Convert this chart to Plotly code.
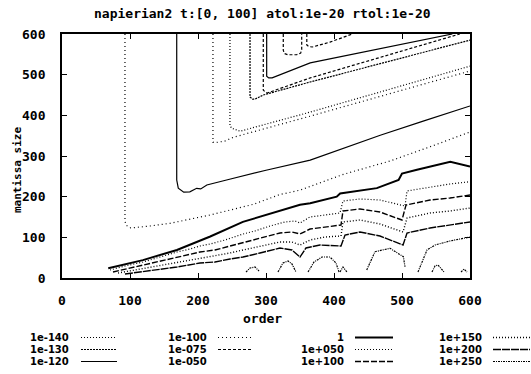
import plotly.graph_objects as go

# ---------------- data (order, mantissa size) ----------------
level_names = ["1e-140", "1e-130", "1e-120", "1e-100", "1e-075", "1e-050",
               "1", "1e+050", "1e+100", "1e+150", "1e+200", "1e+250"]

# upper region (vertical then slanted contours)
a_order = [92.6, 92.6, 94, 101, 130, 159, 218, 281, 320, 350, 414, 440, 483, 540, 593, 600]
a_mant = [600, 140, 130, 123, 128, 134.5, 155, 181, 205, 216, 255, 268, 288, 322, 355, 359]

b_order = [168.7, 168.7, 171, 179, 188, 198, 204, 213, 242, 300, 365, 468, 530, 600]
b_mant = [600, 241, 221, 211, 212, 220.5, 219, 228.7, 241, 265, 290, 351, 385, 423]

v3_order = [222, 222, 226, 240, 252, 365, 600]
v3_mant = [600, 334, 333, 337, 346, 398, 509]

v4_order = [247, 247, 250, 256, 262, 365, 600]
v4_mant = [600, 374, 368, 364, 361, 408, 521]

v5_order = [276.5, 276.5, 280, 284, 296, 365, 600]
v5_mant = [600, 445, 440, 440, 450, 482, 585]

v5b_order = [296, 296, 299, 302, 365, 585]
v5b_mant = [600, 462, 457, 455, 492, 600]

v6_order = [301, 301, 304, 309, 365, 574]
v6_mant = [600, 496, 492, 492, 529, 600]

u_order = [325.4, 325.4, 327, 332, 345, 351, 352.5, 352.5]
u_mant = [600, 560, 552, 549, 549, 553, 562, 600]

u2_order = [360, 360, 363, 368, 394, 427]
u2_mant = [600, 573, 569, 568, 580, 600]

# lower region
one_order = [68, 119, 169, 218, 266, 316, 350, 365, 404, 409, 463, 495, 500, 522, 571, 600]
one_mant = [24, 44, 69, 102, 138, 163, 180, 184, 200, 208, 221, 241, 257, 266, 286, 274]

l50_order = [70.6, 92.6, 119.1, 144.1, 169.1, 188.2, 202.9, 217.6, 239.7, 266.2, 283.8, 305.9,
             327.9, 342.6, 350, 364.7, 386.8, 408.8, 413.2, 438.2, 467.6, 497, 504.4, 507.4,
             541.2, 570.6, 600]
l50_mant = [19.7, 29.5, 39.3, 51.6, 63.9, 71.3, 78.7, 83.6, 93.4, 108.2, 115.6, 127.9,
            137.7, 140.2, 135.3, 150, 154.9, 159.8, 189.4, 194.3, 191.8, 179.5, 177, 214,
            223.8, 231.2, 236.8]

l100_order = [75, 100, 119.1, 144.1, 169.1, 202.9, 225, 247.1, 266.2, 291.2, 320.6, 338.2,
              350, 364.7, 386.8, 410.3, 413.2, 438.2, 467.6, 500, 505.9, 541.2, 570.6, 600]
l100_mant = [14.8, 24.6, 32, 41.8, 51.6, 63.9, 68.9, 78.7, 88.5, 98.4, 110.7, 113.1,
             108.2, 120.5, 125.4, 130.3, 164.8, 169.7, 162.3, 142.6, 179.5, 191.8, 196.7, 204.1]

l150_order = [82.4, 107.4, 129.4, 169.1, 202.9, 225, 247.1, 266.2, 291.2, 320.6, 338.2, 350,
              364.7, 386.8, 410.3, 413.2, 438.2, 467.6, 501.5, 507.4, 541.2, 570.6, 600]
l150_mant = [12.3, 19.7, 27, 39.3, 49.2, 54.1, 61.5, 68.9, 78.7, 88.5, 88.5, 81.1,
             93.4, 100.8, 103.3, 137.7, 142.6, 132.8, 113.1, 147.5, 159.8, 164.8, 172.1]

l200_order = [92.6, 129.4, 169.1, 202.9, 225, 247.1, 266.2, 291.2, 320.6, 338.2, 350, 358.8,
              379.4, 410.3, 416.2, 438.2, 467.6, 501.5, 507.4, 541.2, 570.6, 600]
l200_mant = [9.8, 17.2, 27, 36.9, 39.3, 46.7, 51.6, 61.5, 73.8, 68.9, 51.6, 73.8,
             81.1, 78.7, 105.7, 113.1, 103.3, 81.1, 110.7, 123, 130.3, 137.7]

l250_order = [523.5, 529.4, 536.8, 548.5, 570.6, 600]
l250_mant = [14.8, 39.3, 68.9, 81.1, 91, 100.8]

arch1_order = [270.6, 276.5, 283.8, 289.7]
arch1_mant = [14.8, 24.6, 27, 17.2]
arch2_order = [317.6, 325, 332.4, 338.2, 344.1]
arch2_mant = [14.8, 36.9, 41.8, 34.4, 14.8]
arch3_order = [361.8, 370.6, 382.4, 394.1, 402.9, 407.4]
arch3_mant = [14.8, 39.3, 51.6, 51.6, 36.9, 14.8]
arch4_order = [448.1, 460.3, 482.4, 502, 504.4]
arch4_mant = [19.7, 64.7, 73, 52.3, 27.7]
blob1_order = [408.8, 413.2, 419.1]
blob1_mant = [14.8, 27, 14.8]
blob2_order = [544.1, 548.5, 552.9, 557.4, 561.8]
blob2_mant = [14.8, 29.5, 32, 24.6, 14.8]
blob3_order = [586.8, 591.2, 595.6]
blob3_mant = [14.8, 22.1, 14.8]

contours = [
    ("1e-100", a_order, a_mant), ("1e-120", b_order, b_mant),
    ("1e-100", v3_order, v3_mant), ("1e-140", v4_order, v4_mant),
    ("1e-130", v5_order, v5_mant), ("1e-075", v5b_order, v5b_mant),
    ("1e-120", v6_order, v6_mant), ("1e-075", u_order, u_mant),
    ("1e-075", u2_order, u2_mant),
    ("1", one_order, one_mant), ("1e+050", l50_order, l50_mant),
    ("1e+100", l100_order, l100_mant), ("1e+150", l150_order, l150_mant),
    ("1e+200", l200_order, l200_mant), ("1e+250", l250_order, l250_mant),
    ("1e+250", arch1_order, arch1_mant), ("1e+250", arch2_order, arch2_mant),
    ("1e+250", arch3_order, arch3_mant), ("1e+250", arch4_order, arch4_mant),
    ("1e+250", blob1_order, blob1_mant), ("1e+250", blob2_order, blob2_mant),
    ("1e+250", blob3_order, blob3_mant),
]

# ---------------- styles ----------------
STYLE = {
    "1e-140": dict(dash="1px,2px", width=1.2),
    "1e-130": dict(dash="2px,1px", width=1.2),
    "1e-120": dict(dash="solid", width=1.2),
    "1e-100": dict(dash="1px,3px", width=1.2),
    "1e-075": dict(dash="3px,2px", width=1.2),
    "1e-050": dict(dash="1px,6px", width=1.0),
    "1": dict(dash="solid", width=2.0),
    "1e+050": dict(dash="1px,2px", width=1.2),
    "1e+100": dict(dash="6px,2px", width=1.4),
    "1e+150": dict(dash="1px,2px", width=1.4),
    "1e+200": dict(dash="8px,1px", width=1.4),
    "1e+250": dict(dash="2px,1px,1px,1px", width=1.2),
}

FAM = "DejaVu Sans Mono"
TITLE_FONT = dict(family=FAM, size=13, color="black", weight="bold")
TICK_FONT = dict(family=FAM, size=13, color="black", weight="bold")
YT_FONT = dict(family=FAM, size=11, color="black", weight="bold")
LEG_FONT = dict(family="DejaVu Sans", size=10, color="black", weight="bold")

fig = go.Figure()
for lvl, xs, ys in contours:
    st = STYLE[lvl]
    fig.add_trace(go.Scatter(x=xs, y=ys, mode="lines", name=lvl, showlegend=False,
                             line=dict(color="black", width=st["width"], dash=st["dash"]),
                             hoverinfo="skip"))

W, H = 531, 374
L, T, R, B = 62, 34, 61, 96
PW, PH = W - L - R, H - T - B


def px(xp):
    return (xp - L) / PW


def py(yp):
    return (T + PH - yp) / PH


annotations = [
    dict(text="napierian2 t:[0, 100] atol:1e-20 rtol:1e-20", x=px(262), y=py(14), font=TITLE_FONT),
    dict(text="order", x=px(262), y=py(318), font=TITLE_FONT),
    dict(text="mantissa size", x=px(17), y=py(170), textangle=-90, font=YT_FONT),
]
for a in annotations:
    a.update(xref="paper", yref="paper", showarrow=False, borderpad=0,
             xanchor="center", yanchor="middle")

shapes = []
col_text_right = [70, 208, 345, 483]
col_sample = [(81, 117), (218, 252), (355, 393), (493, 530)]
row_y = [337.5, 349.5, 361.5]
for i, lvl in enumerate(level_names):
    c, r = divmod(i, 3)
    annotations.append(dict(text=lvl, x=px(col_text_right[c]), y=py(row_y[r]),
                            xref="paper", yref="paper", showarrow=False, font=LEG_FONT,
                            borderpad=0, xanchor="right", yanchor="middle"))
    if lvl == "1e-050":
        continue
    st = STYLE[lvl]
    x0, x1 = col_sample[c]
    shapes.append(dict(type="line", xref="paper", yref="paper",
                       x0=px(x0), x1=px(x1), y0=py(row_y[r]), y1=py(row_y[r]),
                       line=dict(color="black", width=st["width"], dash=st["dash"])))

axis_common = dict(range=[0, 600], dtick=100, ticks="inside", ticklen=5, tickwidth=1.2,
                   tickcolor="black", showline=True, linecolor="black", linewidth=1.8,
                   mirror="ticks", showgrid=False, zeroline=False, tickfont=TICK_FONT)

fig.update_layout(
    width=W, height=H, margin=dict(l=L, r=R, t=T, b=B, autoexpand=False),
    paper_bgcolor="white", plot_bgcolor="white",
    xaxis=dict(**axis_common, ticklabelstandoff=9),
    yaxis=dict(**axis_common, ticklabelstandoff=12),
    annotations=annotations, shapes=shapes, showlegend=False,
)

fig.write_html("out.html", config={"displayModeBar": False},
               post_script="document.body.style.margin='0px';")
